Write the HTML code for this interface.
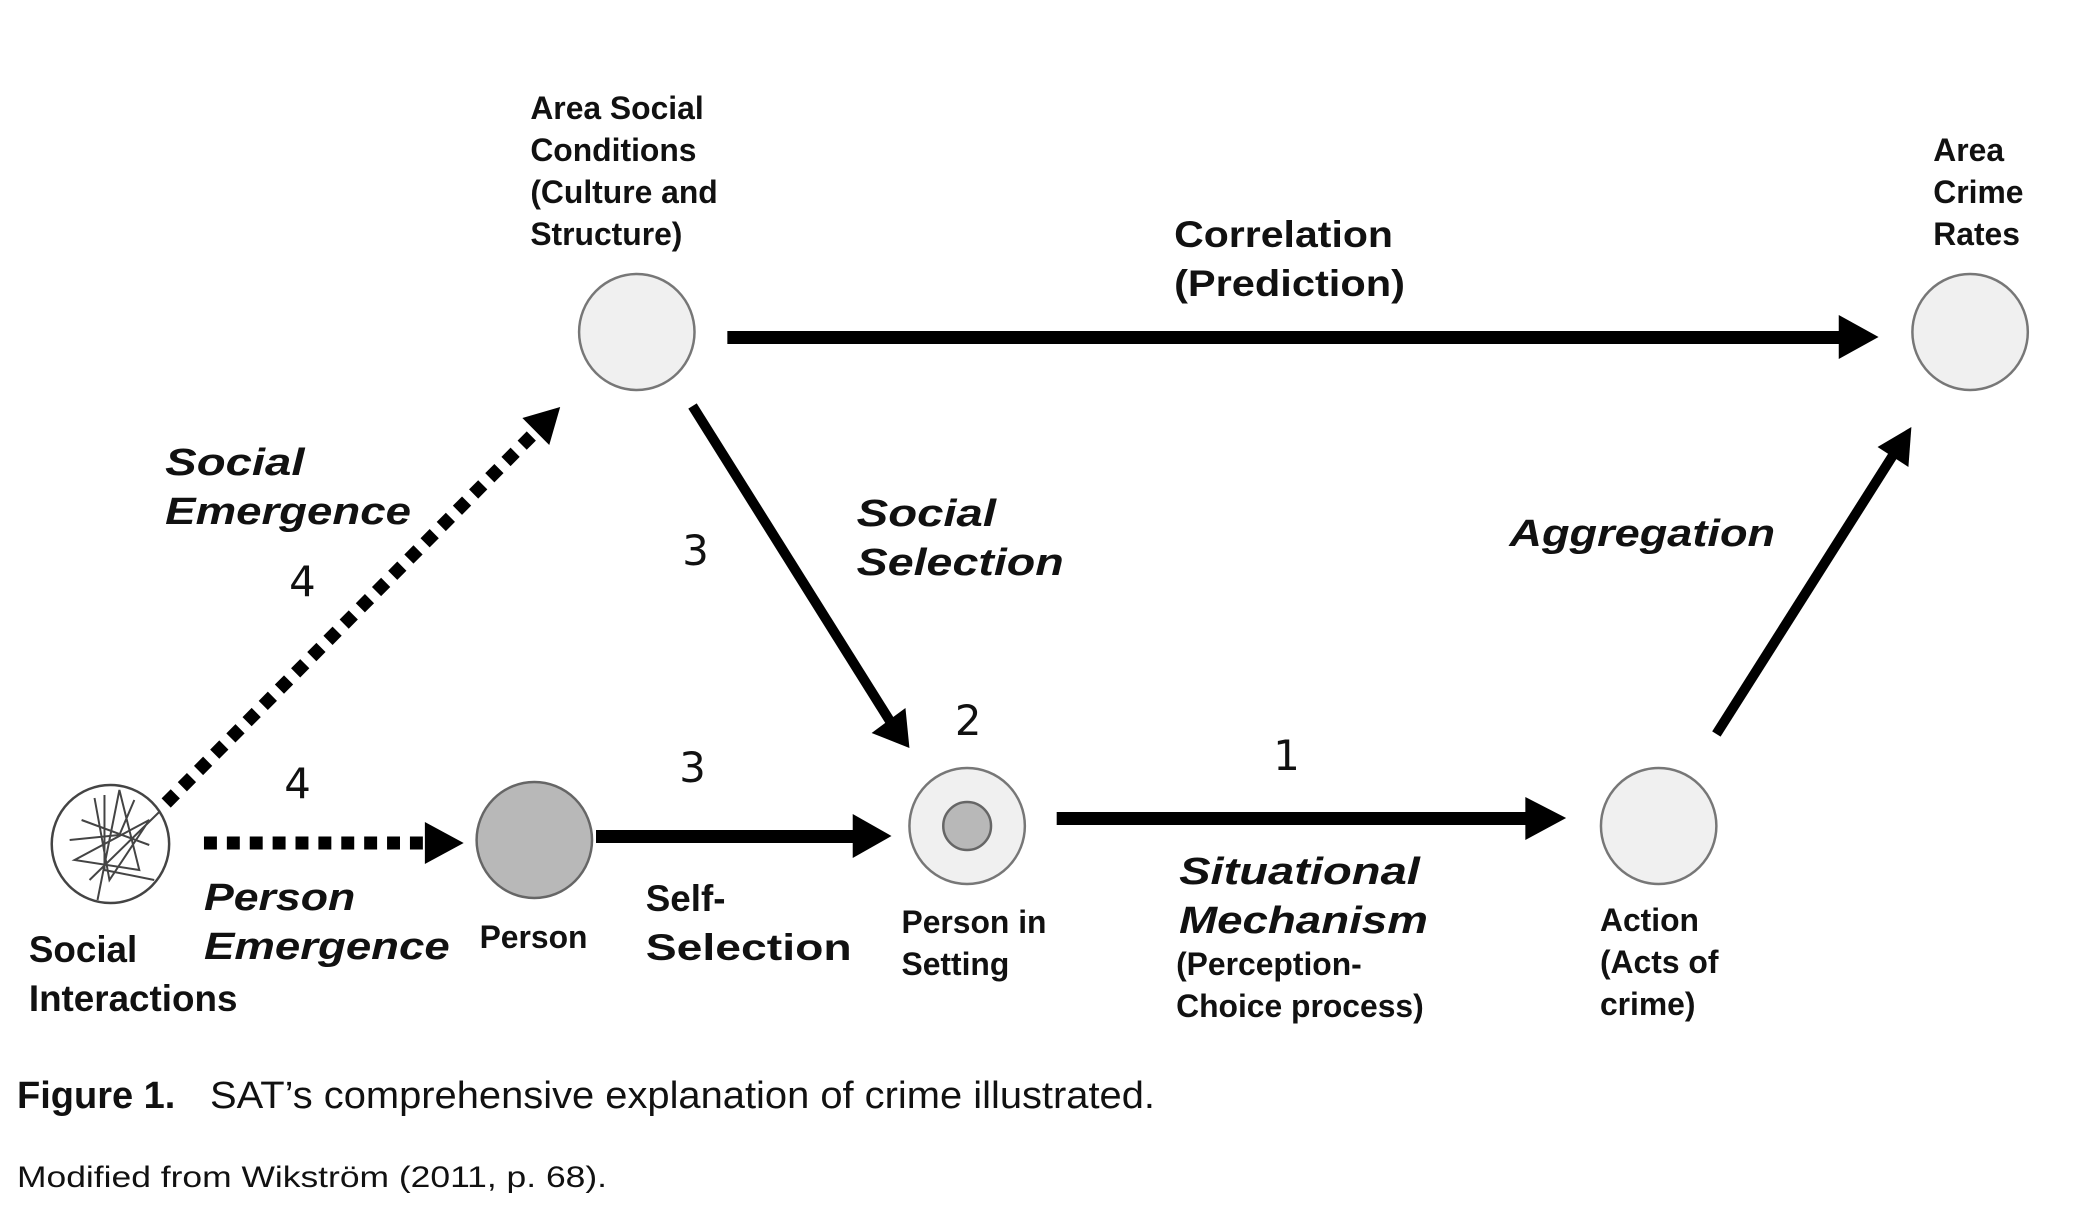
<!DOCTYPE html>
<html><head><meta charset="utf-8"><style>
html,body{margin:0;padding:0;background:#fff;}
svg{display:block;}
.b{font-family:"Liberation Sans",Arial,sans-serif;font-weight:bold;fill:#111;}
.bi{font-family:"Liberation Sans",Arial,sans-serif;font-weight:bold;font-style:italic;fill:#111;}
.n{font-family:"DejaVu Sans","Liberation Sans",sans-serif;fill:#111;}
.c{font-family:"Liberation Sans",Arial,sans-serif;fill:#111;}
</style></head><body>
<svg width="2089" height="1217" viewBox="0 0 2089 1217" xmlns="http://www.w3.org/2000/svg">
<g transform="scale(0.995,1)">
<circle cx="640" cy="332" r="58" fill="#f0f0f0" stroke="#777" stroke-width="2.5"/>
<circle cx="1980" cy="332" r="58" fill="#f0f0f0" stroke="#777" stroke-width="2.5"/>
<circle cx="537" cy="840" r="58" fill="#b8b8b8" stroke="#666" stroke-width="2.5"/>
<circle cx="972" cy="826" r="58" fill="#f0f0f0" stroke="#777" stroke-width="2.5"/>
<circle cx="972" cy="826" r="24" fill="#b8b8b8" stroke="#666" stroke-width="2.5"/>
<circle cx="1667" cy="826" r="58" fill="#f0f0f0" stroke="#777" stroke-width="2.5"/>
<circle cx="111" cy="844" r="59" fill="#fff" stroke="#444" stroke-width="2.5"/>
<g stroke="#444" stroke-width="2" fill="none">
<path d="M95 798 L110 880 L150 820 L75 860 L140 870 L120 790 L98 900 M82 820 L150 845 M105 795 L105 870 L155 880 M70 840 L120 835 L135 800 M90 880 L160 812"/>
</g>
<rect x="731" y="331" width="1120" height="13" fill="#000"/>
<polygon points="1848,315 1888,337 1848,359" fill="#000"/>
<line x1="696" y1="406" x2="895" y2="722" stroke="#000" stroke-width="10"/>
<polygon points="876,733 914,748 910,708" fill="#000"/>
<line x1="1725" y1="734" x2="1902" y2="456" stroke="#000" stroke-width="10"/>
<polygon points="1887,447 1921,427 1918,467" fill="#000"/>
<line x1="167" y1="803" x2="540" y2="430" stroke="#000" stroke-width="13" stroke-dasharray="13 10"/>
<polygon points="525,418 563,407 552,445" fill="#000"/>
<line x1="205" y1="843" x2="430" y2="843" stroke="#000" stroke-width="13" stroke-dasharray="13 10"/>
<polygon points="427,822 466,843 427,864" fill="#000"/>
<rect x="599" y="830" width="262" height="13" fill="#000"/>
<polygon points="857,814 896,836 857,858" fill="#000"/>
<rect x="1062" y="812" width="475" height="13" fill="#000"/>
<polygon points="1533,797 1574,818 1533,840" fill="#000"/>

<g class="b" font-size="32">
<text x="533" y="119">Area Social</text>
<text x="533" y="161">Conditions</text>
<text x="533" y="203">(Culture and</text>
<text x="533" y="245">Structure)</text>
<text x="1943" y="161">Area</text>
<text x="1943" y="203">Crime</text>
<text x="1943" y="245">Rates</text>
<text x="482" y="948">Person</text>
<text x="906" y="933">Person in</text>
<text x="906" y="975">Setting</text>
<text x="1182" y="975">(Perception-</text>
<text x="1182" y="1017">Choice process)</text>
<text x="1608" y="931">Action</text>
<text x="1608" y="973">(Acts of</text>
<text x="1608" y="1015">crime)</text>
</g>
<g class="b" font-size="37">
<text x="1180" y="247" textLength="220" lengthAdjust="spacingAndGlyphs">Correlation</text>
<text x="1180" y="296" textLength="232" lengthAdjust="spacingAndGlyphs">(Prediction)</text>
<text x="29" y="962">Social</text>
<text x="29" y="1011">Interactions</text>
<text x="649" y="911">Self-</text>
<text x="649" y="960" textLength="207" lengthAdjust="spacingAndGlyphs">Selection</text>
</g>
<g class="bi" font-size="38">
<text x="166" y="475" textLength="140" lengthAdjust="spacingAndGlyphs">Social</text>
<text x="166" y="524" textLength="247" lengthAdjust="spacingAndGlyphs">Emergence</text>
<text x="861" y="526" textLength="140" lengthAdjust="spacingAndGlyphs">Social</text>
<text x="861" y="575" textLength="208" lengthAdjust="spacingAndGlyphs">Selection</text>
<text x="1517" y="546" textLength="267" lengthAdjust="spacingAndGlyphs">Aggregation</text>
<text x="205" y="910" textLength="152" lengthAdjust="spacingAndGlyphs">Person</text>
<text x="205" y="959" textLength="247" lengthAdjust="spacingAndGlyphs">Emergence</text>
<text x="1185" y="884" textLength="242" lengthAdjust="spacingAndGlyphs">Situational</text>
<text x="1185" y="933" textLength="250" lengthAdjust="spacingAndGlyphs">Mechanism</text>
</g>
<g class="n" font-size="42" text-anchor="middle">
<text x="304" y="596">4</text>
<text x="699" y="565">3</text>
<text x="973" y="735">2</text>
<text x="299" y="798">4</text>
<text x="696" y="782">3</text>
<text x="1293" y="770">1</text>
</g>
</g>
<text class="c" x="17" y="1108" font-size="38" font-weight="bold">Figure 1.</text>
<text class="c" x="210" y="1108" font-size="38" textLength="945" lengthAdjust="spacingAndGlyphs">SAT’s comprehensive explanation of crime illustrated.</text>
<text class="c" x="17" y="1187" font-size="30" textLength="590" lengthAdjust="spacingAndGlyphs">Modified from Wikström (2011, p. 68).</text>
</svg>
</body></html>
